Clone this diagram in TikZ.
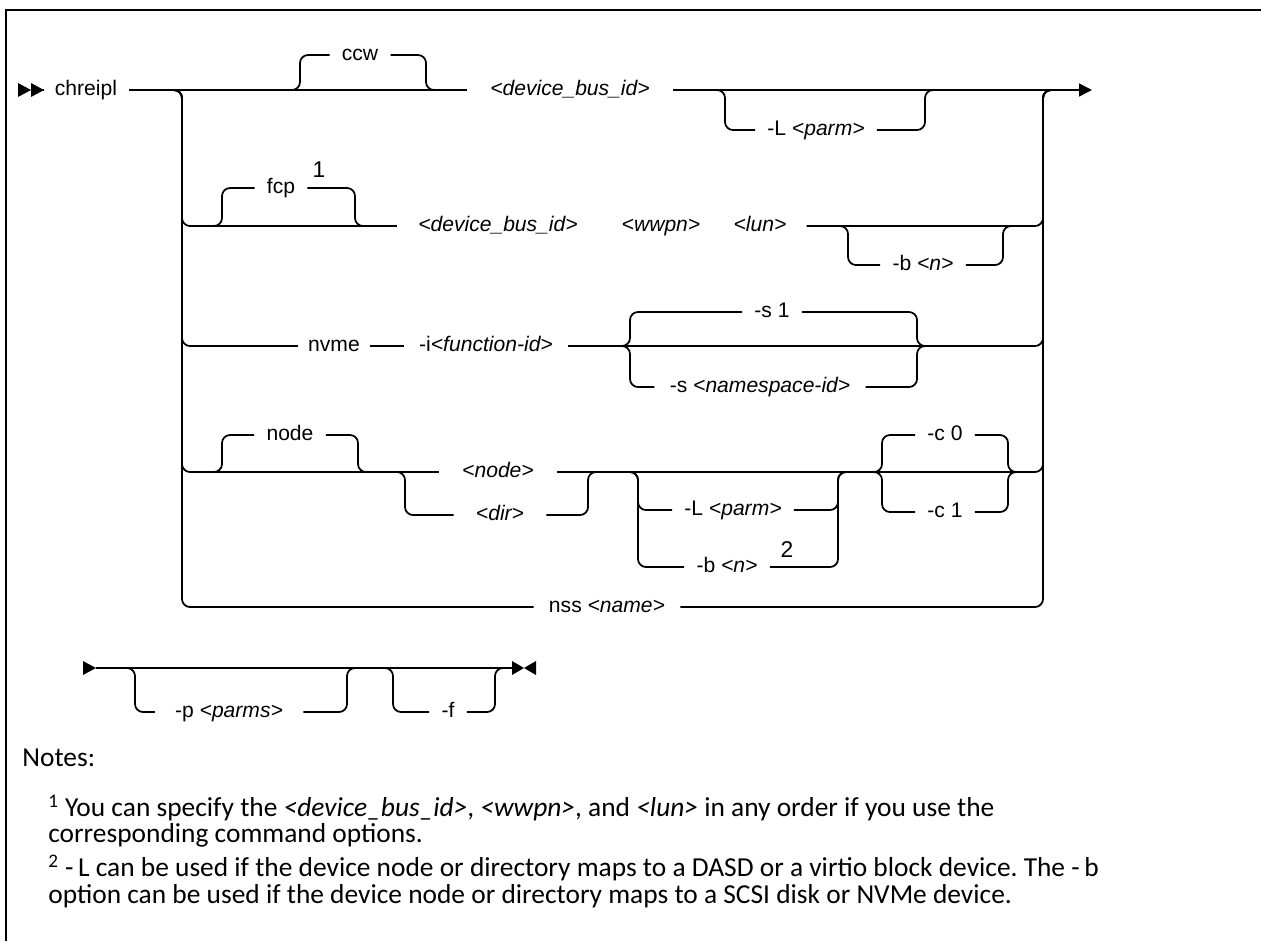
\documentclass[tikz,border=0pt]{standalone}
\usepackage{fontspec}
\setmainfont{Liberation Sans}
\newfontfamily\notefont{Carlito}
\usetikzlibrary{arrows.meta,positioning,calc}
\frenchspacing

\tikzset{
  rr/.style={line width=1pt, rounded corners=0.16cm},
  lbl/.style={font=\fontsize{12}{14}\selectfont, inner xsep=0.24cm, inner ysep=0pt,
    text height=8.5pt, text depth=2.5pt},
  supnum/.style={font=\fontsize{13}{15}\selectfont, inner sep=0pt},
  note/.style={font=\notefont\fontsize{15.6}{18}\selectfont, anchor=west, inner sep=0pt}
}

\begin{document}
\begin{tikzpicture}[x=0.02cm, y=-0.02cm]
\useasboundingbox (0,0) rectangle (1261,941);
\draw[line width=1.3pt] (6,941) -- (6,10) -- (1261,10);

\coordinate (lv) at (182,90);
\coordinate (rv) at (1043,90);
\coordinate (rj) at (1060,90);
\coordinate (rowend) at (1092,90);

% first row
\node[lbl] (chreipl) at (86,90) {chreipl};
\fill (18,83) -- (31,90) -- (18,97) -- cycle;
\fill (31,83) -- (44,90) -- (31,97) -- cycle;
\coordinate (mark) at (44,90);
\draw[rr] (mark) -- (chreipl.west);
\node[lbl] (ccw) at (360,55) {ccw};
\node[lbl, inner xsep=0.46cm] (busid) at (570,90) {\textit{<device\_bus\_id>}};
\node[lbl] (lparm) at (816,130) {-L \textit{<parm>}};
\draw[rr] (chreipl.east) -- (busid.west);
\draw[rr, -{Triangle[length=0.26cm,width=0.26cm]}] (busid.east) -- (rowend);
\coordinate (ccwA) at (300,90);
\coordinate (ccwB) at (426,90);
\draw[rr] (ccwA) ++(-14,0) -- (ccwA) |- (ccw.west);
\draw[rr] (ccw.east) -| (ccwB) -- ++(14,0);
\coordinate (lpA) at (725,90);
\coordinate (lpB) at (925,90);
\draw[rr] (lpA) ++(-14,0) -- (lpA) |- (lparm.west);
\draw[rr] (lparm.east) -| (lpB) -- ++(14,0);

% fcp
\node[lbl] (fcp) at (281,188) {fcp};
\node[supnum] (one) at (319,170) {1};
\node[lbl, inner xsep=0.42cm] (busid2) at (498,226) {\textit{<device\_bus\_id>}};
\node[lbl] (wwpn) at (661,226) {\textit{<wwpn>}};
\node[lbl, inner xsep=0.4cm] (lun) at (760,226) {\textit{<lun>}};
\node[lbl] (bn) at (923,265) {-b \textit{<n>}};
\draw[rr] (chreipl.east) -| (lv |- busid2) -- (busid2.west);
\draw[rr] (lun.east) -| (rv) -- (rj);
\coordinate (fcpA) at (222,226);
\coordinate (fcpB) at (355,226);
\draw[rr] (fcpA) ++(-14,0) -- (fcpA) |- (fcp.west);
\draw[rr] (fcp.east) -| (fcpB) -- ++(14,0);
\coordinate (bnA) at (848,226);
\coordinate (bnB) at (1003,226);
\draw[rr] (bnA) ++(-14,0) -- (bnA) |- (bn.west);
\draw[rr] (bn.east) -| (bnB) -- ++(14,0);

% nvme
\node[lbl, inner xsep=0.2cm] (nvme) at (334,346) {nvme};
\node[lbl, inner xsep=0.3cm] (fid) at (486,346) {-i\textit{<function-id>}};
\node[lbl] (sone) at (772,312) {-s 1};
\node[lbl, inner xsep=0.3cm] (nsid) at (760,387) {-s \textit{<namespace-id>}};
\draw[rr] (chreipl.east) -| (lv |- nvme) -- (nvme.west);
\draw[rr] (nvme.east) -- (fid.west);
\draw[rr] (fid.east) -| (rv) -- (rj);
\coordinate (sA) at (630,346);
\coordinate (sB) at (917,346);
\draw[rr] (sA) ++(-14,0) -- (sA) |- (sone.west);
\draw[rr] (sone.east) -| (sB) -- ++(14,0);
\draw[rr] (sA) ++(-14,0) -- (sA) |- (nsid.west);
\draw[rr] (nsid.east) -| (sB) -- ++(14,0);

% node
\node[lbl] (nodekw) at (290,435) {node};
\node[lbl, inner xsep=0.46cm] (devnode) at (498,472) {\textit{<node>}};
\node[lbl, inner xsep=0.44cm] (dir) at (500,515) {\textit{<dir>}};
\node[lbl] (lparm2) at (733,510) {-L \textit{<parm>}};
\node[lbl] (bn2) at (727,567) {-b \textit{<n>}};
\node[supnum] (two) at (787,550) {2};
\node[lbl] (czero) at (945,435) {-c 0};
\node[lbl] (cone) at (945,512) {-c 1};
\draw[rr] (chreipl.east) -| (lv |- devnode) -- (devnode.west);
\draw[rr] (devnode.east) -| (rv) -- (rj);
\coordinate (ndA) at (222,472);
\coordinate (ndB) at (358,472);
\draw[rr] (ndA) ++(-14,0) -- (ndA) |- (nodekw.west);
\draw[rr] (nodekw.east) -| (ndB) -- ++(14,0);
\coordinate (drA) at (405,472);
\coordinate (drB) at (588,472);
\draw[rr] (drA) ++(-14,0) -- (drA) |- (dir.west);
\draw[rr] (dir.east) -| (drB) -- ++(14,0);
\coordinate (lbA) at (638,472);
\coordinate (lbB) at (838,472);
\draw[rr] (lbA) ++(-14,0) -- (lbA) |- (lparm2.west);
\draw[rr] (lparm2.east) -| (lbB) -- ++(14,0);
\draw[rr] (lbA) ++(-14,0) -- (lbA) |- (bn2.west);
\draw[rr] (bn2.east) -| (lbB) -- ++(14,0);
\coordinate (cA) at (882,472);
\coordinate (cB) at (1008,472);
\draw[rr] (cA) ++(-14,0) -- (cA) |- (czero.west);
\draw[rr] (czero.east) -| (cB) -- ++(14,0);
\draw[rr] (cA) ++(-14,0) -- (cA) |- (cone.west);
\draw[rr] (cone.east) -| (cB) -- ++(14,0);

% nss
\node[lbl, inner xsep=0.3cm] (nss) at (607,607) {nss \textit{<name>}};
\draw[rr] (chreipl.east) -| (lv |- nss) -- (nss.west);
\draw[rr] (nss.east) -| (rv) -- (rj);

% second line
\fill (83,661) -- (96,668) -- (83,675) -- cycle;
\coordinate (bstart) at (96,668);
\coordinate (bend) at (512,668);
\draw[rr] (bstart) -- (bend);
\fill (512,661) -- (524,668) -- (512,675) -- cycle;
\fill (536,661) -- (524,668) -- (536,675) -- cycle;
\node[lbl, inner xsep=0.4cm] (pparm) at (229,712) {-p \textit{<parms>}};
\node[lbl] (force) at (448,712) {-f};
\coordinate (pA) at (135,668);
\coordinate (pB) at (347,668);
\draw[rr] (pA) ++(-14,0) -- (pA) |- (pparm.west);
\draw[rr] (pparm.east) -| (pB) -- ++(14,0);
\coordinate (fA) at (393,668);
\coordinate (fB) at (495,668);
\draw[rr] (fA) ++(-14,0) -- (fA) |- (force.west);
\draw[rr] (force.east) -| (fB) -- ++(14,0);

% notes
\node[note] (notes) at (22,758) {Notes:};
\node[note] (n1a) at (48,808) {\textsuperscript{1} You can specify the \textit{<device\_bus\_id>}, \textit{<wwpn>}, and \textit{<lun>} in any order if you use the};
\node[note] (n1b) at (48,835) {corresponding command options.};
\node[note] (n2a) at (48,868) {\textsuperscript{2} -\,L can be used if the device node or directory maps to a DASD or a virtio block device. The -\,b};
\node[note] (n2b) at (48,896) {option can be used if the device node or directory maps to a SCSI disk or NVMe device.};
\end{tikzpicture}
\end{document}
